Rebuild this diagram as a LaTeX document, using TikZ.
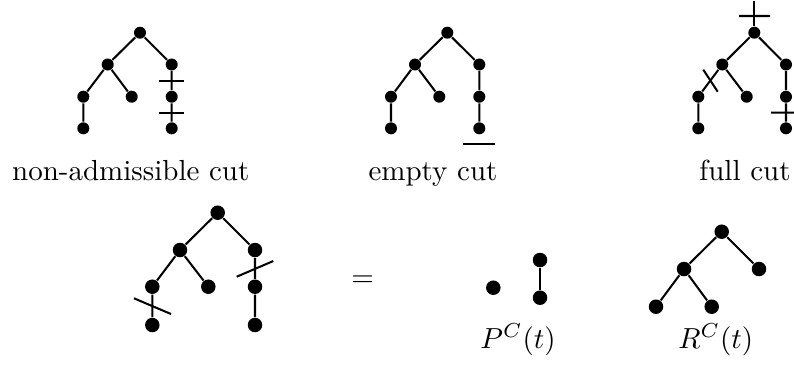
\documentclass[tikz,border=0pt]{standalone}
\begin{document}
\begin{tikzpicture}[x=0.3448pt,y=-0.3448pt,
  dot/.style={circle,fill=black,draw=none,inner sep=0pt,minimum size=4.14pt},
  bdot/.style={circle,fill=black,draw=none,inner sep=0pt,minimum size=5pt},
  edge/.style={line width=0.7pt},
  cutline/.style={line width=0.7pt},
  lbl/.style={anchor=base,inner sep=0pt}]
\useasboundingbox (0,0) rectangle (794,372);
% Tree 1: non-admissible cut
\node[dot] (a0) at (140,32.7) {};
\node[dot] (a1) at (107.7,64.5) {};
\node[dot] (a2) at (171.7,64.5) {};
\node[dot] (a3) at (83.3,96.7) {};
\node[dot] (a4) at (131.7,96.7) {};
\node[dot] (a5) at (171.7,96.7) {};
\node[dot] (a6) at (83.3,128.3) {};
\node[dot] (a7) at (171.7,128.3) {};
\draw[edge] (a0)--(a1) (a0)--(a2) (a1)--(a3) (a1)--(a4) (a2)--(a5) (a3)--(a6) (a5)--(a7);
\coordinate (c1a) at (159,80.7); \coordinate (c1b) at (184.3,80.7);
\coordinate (c2a) at (159,112.7); \coordinate (c2b) at (184.3,112.7);
\draw[cutline] (c1a)--(c1b) (c2a)--(c2b);
\node[lbl] (l1) at (130.8,180) {non-admissible cut};
% Tree 2: empty cut
\node[dot] (b0) at (447.3,32.7) {};
\node[dot] (b1) at (415,64.5) {};
\node[dot] (b2) at (479.3,64.5) {};
\node[dot] (b3) at (391,96.7) {};
\node[dot] (b4) at (439.3,96.7) {};
\node[dot] (b5) at (479.3,96.7) {};
\node[dot] (b6) at (391,128.3) {};
\node[dot] (b7) at (479.3,128.3) {};
\draw[edge] (b0)--(b1) (b0)--(b2) (b1)--(b3) (b1)--(b4) (b2)--(b5) (b3)--(b6) (b5)--(b7);
\coordinate (c3a) at (463.3,144.3); \coordinate (c3b) at (495,144.3);
\draw[cutline] (c3a)--(c3b);
\node[lbl] (l2) at (433,180) {empty cut};
% Tree 3: full cut
\node[dot] (d0) at (754.3,32.7) {};
\node[dot] (d1) at (722.3,64.5) {};
\node[dot] (d2) at (786,64.5) {};
\node[dot] (d3) at (698.3,96.7) {};
\node[dot] (d4) at (746.7,96.7) {};
\node[dot] (d5) at (786,96.7) {};
\node[dot] (d6) at (698.3,128.3) {};
\node[dot] (d7) at (786,128.3) {};
\draw[edge] (d0)--(d1) (d0)--(d2) (d1)--(d3) (d1)--(d4) (d2)--(d5) (d3)--(d6) (d5)--(d7);
\coordinate (dtop) at (754.3,0.5);
\draw[edge] (dtop)--(d0);
\coordinate (c4a) at (739,16); \coordinate (c4b) at (770,16);
\coordinate (c5a) at (703.3,69.7); \coordinate (c5b) at (717.7,91.7);
\coordinate (c6a) at (771,112.7); \coordinate (c6b) at (800,112.7);
\draw[cutline] (c4a)--(c4b) (c5a)--(c5b) (c6a)--(c6b);
\node[lbl] (l3) at (745,180) {full cut};
% Bottom tree
\node[bdot] (e0) at (217.7,212.7) {};
\node[bdot] (e1) at (180,250) {};
\node[bdot] (e2) at (255,250) {};
\node[bdot] (e3) at (152.3,286.7) {};
\node[bdot] (e4) at (208.3,286.7) {};
\node[bdot] (e5) at (255,286.7) {};
\node[bdot] (e6) at (152.3,325) {};
\node[bdot] (e7) at (255,325) {};
\draw[edge] (e0)--(e1) (e0)--(e2) (e1)--(e3) (e1)--(e4) (e2)--(e5) (e3)--(e6) (e5)--(e7);
\coordinate (c7a) at (134,298.3); \coordinate (c7b) at (171,314);
\coordinate (c8a) at (236.7,276.7); \coordinate (c8b) at (273.3,261);
\draw[cutline] (c7a)--(c7b) (c8a)--(c8b);
\node (eq) at (362.7,280.7) {$=$};
% P^C(t)
\node[bdot] (p0) at (493.3,287.7) {};
\node[bdot] (p1) at (540,260) {};
\node[bdot] (p2) at (540,297.7) {};
\draw[edge] (p1)--(p2);
\node[lbl] (lp) at (518,348) {$P^C(t)$};
% R^C(t)
\node[bdot] (r0) at (721.7,231.7) {};
\node[bdot] (r1) at (684,269) {};
\node[bdot] (r2) at (759,269) {};
\node[bdot] (r3) at (656,306.7) {};
\node[bdot] (r4) at (711.7,306.7) {};
\draw[edge] (r0)--(r1) (r0)--(r2) (r1)--(r3) (r1)--(r4);
\node[lbl] (lr) at (715.7,348) {$R^C(t)$};
\end{tikzpicture}
\end{document}
